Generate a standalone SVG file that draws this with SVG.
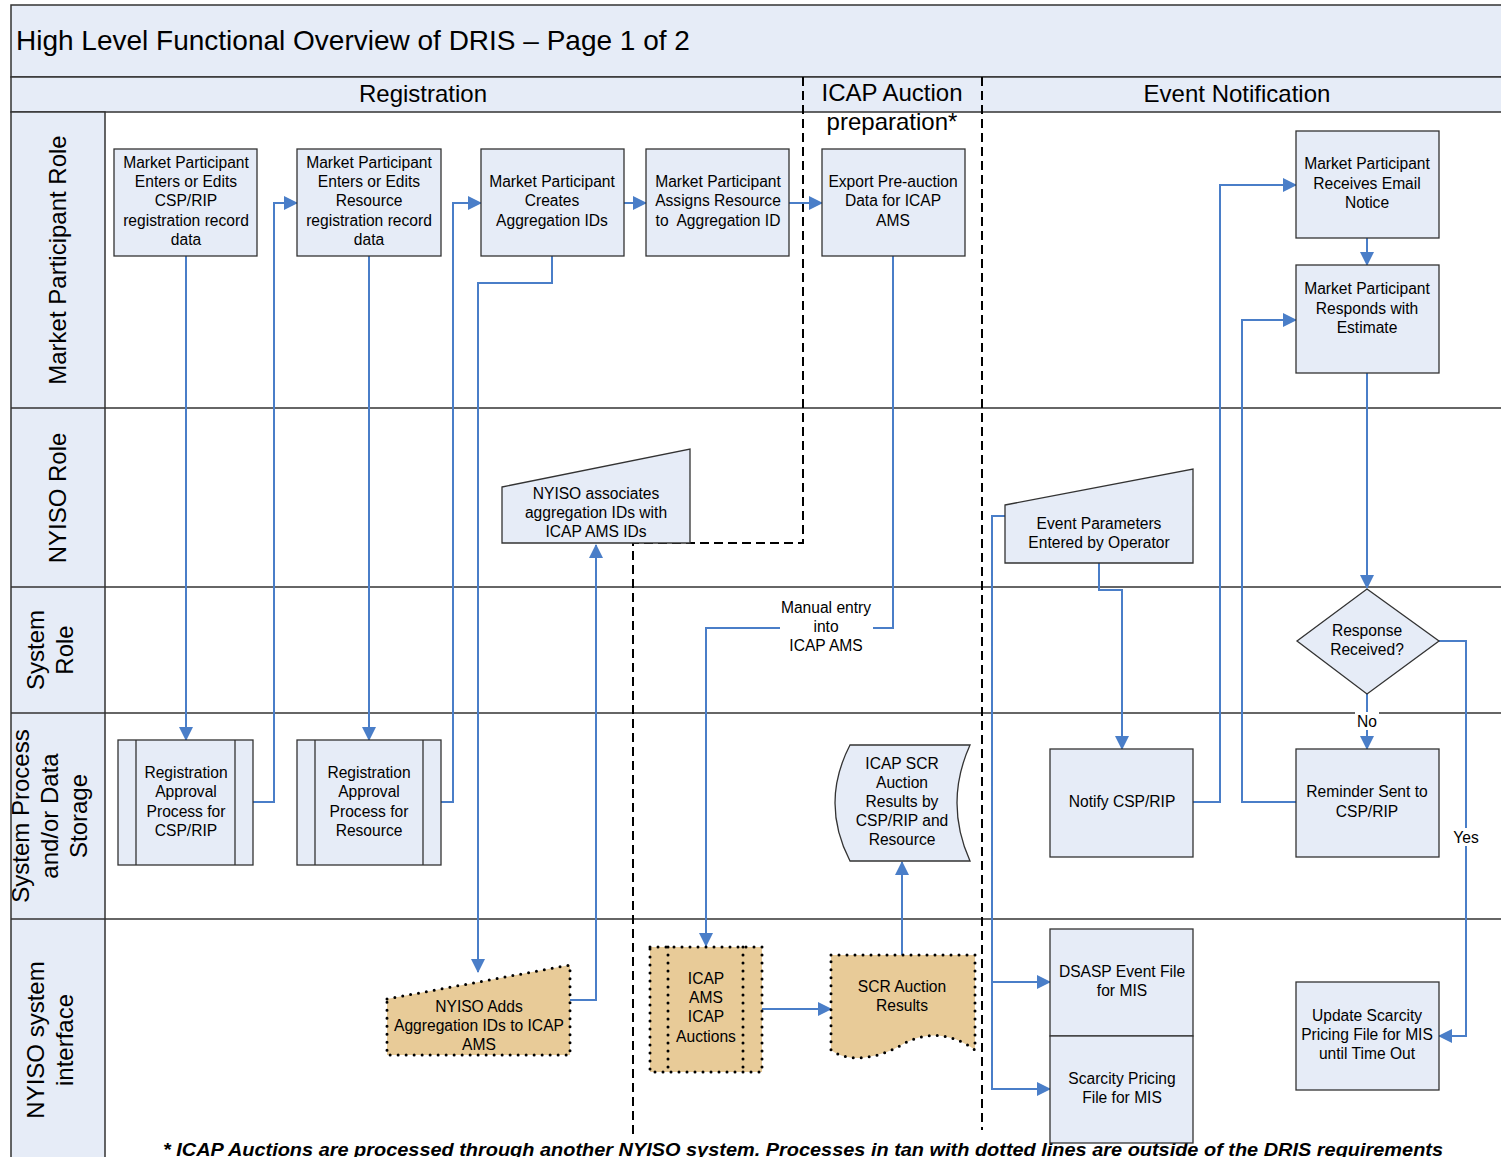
<svg xmlns="http://www.w3.org/2000/svg" width="1501" height="1157" viewBox="0 0 1501 1157">
<style>
text{font-family:"Liberation Sans",Arial,sans-serif;fill:#000}
.n{font-size:15.6px;text-anchor:middle}
.lane{font-size:24px;text-anchor:middle}
.hdr{font-size:24px;text-anchor:middle}
.box{fill:#E6ECF7;stroke:#333;stroke-width:1.3}
.band{fill:#E6ECF7;stroke:#333;stroke-width:1.5}
.tan{fill:#E8CB98;stroke:#000;stroke-width:3;stroke-dasharray:0 8;stroke-linecap:round}
.tanl{fill:none;stroke:#000;stroke-width:3;stroke-dasharray:0 8;stroke-linecap:round}
.c{fill:none;stroke:#4A7EC8;stroke-width:2}
.ca{fill:none;stroke:#4A7EC8;stroke-width:2;marker-end:url(#ah)}
.dash{fill:none;stroke:#000;stroke-width:2;stroke-dasharray:9 5}
.frame{fill:none;stroke:#333;stroke-width:1.5}
.lbl{font-size:15.6px;text-anchor:middle}
</style>
<defs>
<marker id="ah" markerUnits="userSpaceOnUse" markerWidth="14" markerHeight="14" refX="13" refY="7" orient="auto">
<path d="M0,0 L14,7 L0,14 Z" fill="#4A7EC8"/>
</marker>
</defs>
<rect x="0" y="0" width="1501" height="1157" fill="#fff"/>
<g id="frame">
<rect x="11" y="5" width="1495" height="72" class="band"/>
<rect x="11" y="77" width="1495" height="35" class="band"/>
<rect x="11" y="112" width="94" height="1050" class="band"/>
<line x1="11" y1="408" x2="1501" y2="408" class="frame"/>
<line x1="11" y1="587" x2="1501" y2="587" class="frame"/>
<line x1="11" y1="713" x2="1501" y2="713" class="frame"/>
<line x1="11" y1="919" x2="1501" y2="919" class="frame"/>
<text x="16" y="50" font-size="28">High Level Functional Overview of DRIS – Page 1 of 2</text>
<text x="423" y="102" class="hdr">Registration</text>
<text x="892" y="101" class="hdr">ICAP Auction</text>
<text x="892" y="130" class="hdr">preparation*</text>
<text x="1237" y="102" class="hdr">Event Notification</text>
<text class="lane" transform="translate(66,260) rotate(-90)">Market Participant Role</text>
<text class="lane" transform="translate(66,498) rotate(-90)">NYISO Role</text>
<text class="lane" transform="rotate(-90 58 650)"><tspan x="58" y="636">System</tspan><tspan x="58" y="665">Role</tspan></text>
<text class="lane" transform="rotate(-90 58 816)"><tspan x="58" y="787">System Process</tspan><tspan x="58" y="816">and/or Data</tspan><tspan x="58" y="845">Storage</tspan></text>
<text class="lane" transform="rotate(-90 58 1040)"><tspan x="58" y="1026">NYISO system</tspan><tspan x="58" y="1055">interface</tspan></text>
<polyline points="803,77 803,543 633,543 633,1135" class="dash"/>
<line x1="982" y1="77" x2="982" y2="1130" class="dash"/>
<text x="163" y="1156" font-size="18" font-style="italic" font-weight="bold" textLength="1280" lengthAdjust="spacingAndGlyphs">* ICAP Auctions are processed through another NYISO system. Processes in tan with dotted lines are outside of the DRIS requirements</text>
</g>
<g id="connectors">
<polyline points="186,256 186,740" class="ca"/>
<polyline points="253,802 274,802 274,203 297,203" class="ca"/>
<polyline points="369,256 369,740" class="ca"/>
<polyline points="441,802 453,802 453,203 481,203" class="ca"/>
<polyline points="624,203 646,203" class="ca"/>
<polyline points="789,203 822,203" class="ca"/>
<polyline points="552,256 552,283 478,283 478,972" class="ca"/>
<polyline points="570,1000 596,1000 596,545" class="ca"/>
<polyline points="893,256 893,628 873,628" class="c"/>
<polyline points="780,628 706,628 706,946" class="ca"/>
<text x="826" y="613" class="lbl">Manual entry</text>
<text x="826" y="632" class="lbl">into</text>
<text x="826" y="651" class="lbl">ICAP AMS</text>
<polyline points="762,1009 831,1009" class="ca"/>
<polyline points="902,955 902,862" class="ca"/>
<polyline points="1005,516 992,516 992,982 1050,982" class="ca"/>
<polyline points="992,980 992,1089 1050,1089" class="ca"/>
<polyline points="1099,563 1099,590 1122,590 1122,749" class="ca"/>
<polyline points="1193,802 1220,802 1220,185 1296,185" class="ca"/>
<polyline points="1367,238 1367,265" class="ca"/>
<polyline points="1296,802 1242,802 1242,320 1296,320" class="ca"/>
<polyline points="1367,373 1367,588" class="ca"/>
<polyline points="1367,694 1367,749" class="ca"/>
<rect x="1355" y="712" width="24" height="18" fill="#fff"/>
<text x="1367" y="727" class="lbl">No</text>
<polyline points="1439,641 1466,641 1466,1036 1439,1036" class="ca"/>
<rect x="1450" y="828" width="32" height="18" fill="#fff"/>
<text x="1466" y="843" class="lbl">Yes</text>
</g>
<g id="n1"><rect x="114" y="149" width="143" height="107" class="box"/>
<text class="n"><tspan x="186" y="168">Market Participant</tspan><tspan x="186" y="187">Enters or Edits</tspan><tspan x="186" y="206">CSP/RIP</tspan><tspan x="186" y="226">registration record</tspan><tspan x="186" y="245">data</tspan></text></g>
<g id="n2"><rect x="297" y="149" width="144" height="107" class="box"/>
<text class="n"><tspan x="369" y="168">Market Participant</tspan><tspan x="369" y="187">Enters or Edits</tspan><tspan x="369" y="206">Resource</tspan><tspan x="369" y="226">registration record</tspan><tspan x="369" y="245">data</tspan></text></g>
<g id="n3"><rect x="481" y="149" width="143" height="107" class="box"/>
<text class="n"><tspan x="552" y="187">Market Participant</tspan><tspan x="552" y="206">Creates</tspan><tspan x="552" y="226">Aggregation IDs</tspan></text></g>
<g id="n4"><rect x="646" y="149" width="143" height="107" class="box"/>
<text class="n"><tspan x="718" y="187">Market Participant</tspan><tspan x="718" y="206">Assigns Resource</tspan><tspan x="718" y="226" xml:space="preserve">to  Aggregation ID</tspan></text></g>
<g id="n5"><rect x="822" y="149" width="143" height="107" class="box"/>
<text class="n"><tspan x="893" y="187">Export Pre-auction</tspan><tspan x="893" y="206">Data for ICAP</tspan><tspan x="893" y="226">AMS</tspan></text></g>
<g id="n6"><rect x="1296" y="131" width="143" height="107" class="box"/>
<text class="n"><tspan x="1367" y="169">Market Participant</tspan><tspan x="1367" y="189">Receives Email</tspan><tspan x="1367" y="208">Notice</tspan></text></g>
<g id="n7"><rect x="1296" y="265" width="143" height="108" class="box"/>
<text class="n"><tspan x="1367" y="294">Market Participant</tspan><tspan x="1367" y="314">Responds with</tspan><tspan x="1367" y="333">Estimate</tspan></text></g>
<g id="n8"><polygon points="502,487 690,449 690,543 502,543" class="box"/>
<text class="n"><tspan x="596" y="499">NYISO associates</tspan><tspan x="596" y="518">aggregation IDs with</tspan><tspan x="596" y="537">ICAP AMS IDs</tspan></text></g>
<g id="n9"><polygon points="1005,505 1193,469 1193,563 1005,563" class="box"/>
<text class="n"><tspan x="1099" y="529">Event Parameters</tspan><tspan x="1099" y="548">Entered by Operator</tspan></text></g>
<g id="n10"><polygon points="1367,589 1439,641 1367,694 1297,641" class="box"/>
<text class="n"><tspan x="1367" y="636">Response</tspan><tspan x="1367" y="655">Received?</tspan></text></g>
<g id="n11"><rect x="118" y="740" width="135" height="125" class="box"/><line x1="136" y1="740" x2="136" y2="865" stroke="#333" stroke-width="1.3"/><line x1="235" y1="740" x2="235" y2="865" stroke="#333" stroke-width="1.3"/>
<text class="n"><tspan x="186" y="778">Registration</tspan><tspan x="186" y="797">Approval</tspan><tspan x="186" y="817">Process for</tspan><tspan x="186" y="836">CSP/RIP</tspan></text></g>
<g id="n12"><rect x="297" y="740" width="144" height="125" class="box"/><line x1="315" y1="740" x2="315" y2="865" stroke="#333" stroke-width="1.3"/><line x1="423" y1="740" x2="423" y2="865" stroke="#333" stroke-width="1.3"/>
<text class="n"><tspan x="369" y="778">Registration</tspan><tspan x="369" y="797">Approval</tspan><tspan x="369" y="817">Process for</tspan><tspan x="369" y="836">Resource</tspan></text></g>
<g id="n13"><path d="M850,745 H970 Q944,803 970,861 H850 Q820,803 850,745 Z" class="box"/>
<text class="n"><tspan x="902" y="769">ICAP SCR</tspan><tspan x="902" y="788">Auction</tspan><tspan x="902" y="807">Results by</tspan><tspan x="902" y="826">CSP/RIP and</tspan><tspan x="902" y="845">Resource</tspan></text></g>
<g id="n14"><rect x="1050" y="749" width="143" height="108" class="box"/>
<text class="n"><tspan x="1122" y="807">Notify CSP/RIP</tspan></text></g>
<g id="n15"><rect x="1296" y="749" width="143" height="108" class="box"/>
<text class="n"><tspan x="1367" y="797">Reminder Sent to</tspan><tspan x="1367" y="817">CSP/RIP</tspan></text></g>
<g id="n16"><polygon points="387,999 570,965 570,1055 387,1055" class="tan"/>
<text class="n"><tspan x="479" y="1012">NYISO Adds</tspan><tspan x="479" y="1031">Aggregation IDs to ICAP</tspan><tspan x="479" y="1050">AMS</tspan></text></g>
<g id="n17"><rect x="650" y="947" width="112" height="125" class="tan"/><line x1="668" y1="947" x2="668" y2="1072" class="tanl"/><line x1="743" y1="947" x2="743" y2="1072" class="tanl"/>
<text class="n"><tspan x="706" y="984">ICAP</tspan><tspan x="706" y="1003">AMS</tspan><tspan x="706" y="1022">ICAP</tspan><tspan x="706" y="1042">Auctions</tspan></text></g>
<g id="n18"><path d="M831,955 H975 V1050 C955,1035 930,1030 905,1043 C880,1058 850,1064 831,1050 Z" class="tan"/>
<text class="n"><tspan x="902" y="992">SCR Auction</tspan><tspan x="902" y="1011">Results</tspan></text></g>
<g id="n19"><rect x="1050" y="929" width="143" height="107" class="box"/>
<text class="n"><tspan x="1122" y="977">DSASP Event File</tspan><tspan x="1122" y="996">for MIS</tspan></text></g>
<g id="n20"><rect x="1050" y="1036" width="143" height="107" class="box"/>
<text class="n"><tspan x="1122" y="1084">Scarcity Pricing</tspan><tspan x="1122" y="1103">File for MIS</tspan></text></g>
<g id="n21"><rect x="1296" y="982" width="143" height="108" class="box"/>
<text class="n"><tspan x="1367" y="1021">Update Scarcity</tspan><tspan x="1367" y="1040">Pricing File for MIS</tspan><tspan x="1367" y="1059">until Time Out</tspan></text></g>
</svg>
